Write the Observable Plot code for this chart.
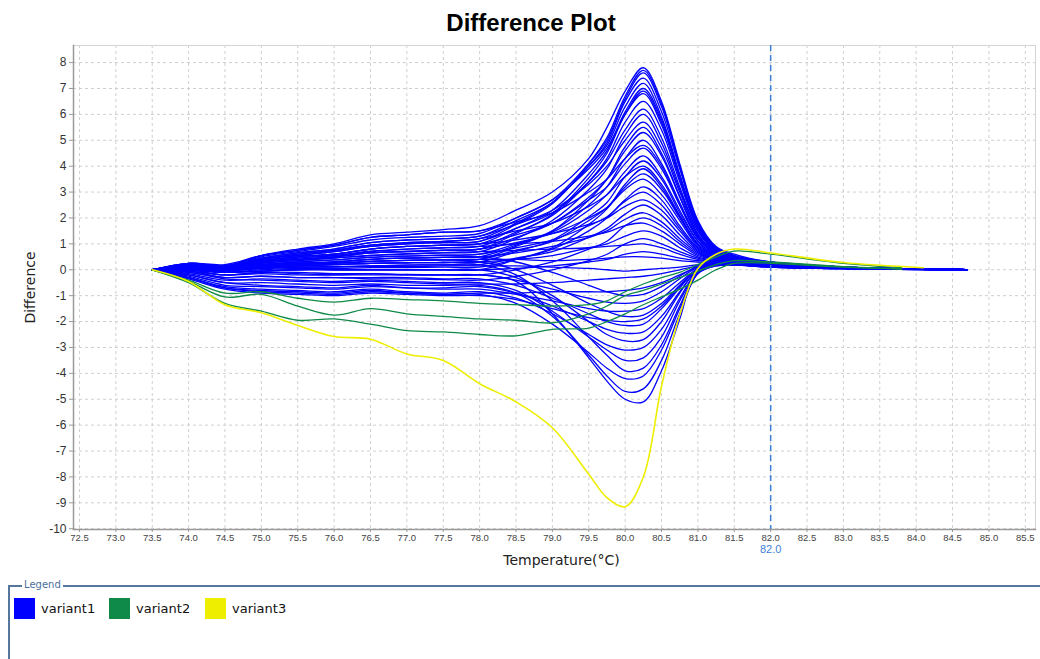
<!DOCTYPE html>
<html><head><meta charset="utf-8">
<script src="https://cdn.jsdelivr.net/npm/d3@7"></script>
<script src="https://cdn.jsdelivr.net/npm/@observablehq/plot@0.6"></script>
<style>
body{margin:0;background:#fff;}
#wrap{position:relative;width:1040px;height:659px;overflow:hidden;background:#fff;}
#title{position:absolute;left:22px;top:9px;width:1018px;text-align:center;font:bold 24px "Liberation Sans",Arial,sans-serif;color:#000;line-height:28px;}
#chart{position:absolute;left:0;top:40px;}
#legend{position:absolute;left:8px;top:585px;width:1040px;height:80px;border-left:2px solid #56779c;border-top:2px solid #56779c;}
#legend .lt{position:absolute;left:12px;top:-8px;background:#fff;padding:0 2px;font:10px "DejaVu Sans",sans-serif;color:#4b6f9c;}
#legend .it{position:absolute;top:11px;height:21px;display:flex;align-items:center;font:13px "DejaVu Sans",sans-serif;color:#111;}
#legend .sw{width:21px;height:21px;margin-right:6px;}
</style></head>
<body><div id="wrap"><div id="title">Difference Plot</div><div id="chart"></div><div id="legend"><span class="lt">Legend</span></div></div>
<script>
// temperature grid (°C) for each variant's curves
const tempsV1 = [73.5,74,74.5,75,75.5,76,76.5,77,77.5,78,78.5,79,79.5,79.75,80,80.25,80.5,80.75,81,81.25,81.5,82,83,84.7];
const tempsV2 = [73.5,74,74.5,75,75.5,76,76.5,77,77.5,78,78.5,79,79.5,79.75,80,80.25,80.5,80.75,81,81.25,81.5,82,83,83.8];
const tempsV3 = [73.5,74,74.5,75,75.5,76,76.5,77,77.5,78,78.5,79,79.5,79.75,80,80.25,80.5,80.75,81,81.25,81.5,82,83,84.1];

const variant1 = [
[0,0.25,0.15,0.55,0.8,1.0,1.35,1.45,1.55,1.7,2.3,3.0,4.3,5.5,6.9,7.8,6.5,4.1,1.9,0.9,0.6,0.3,0.1,0],
[0,0.2,0.1,0.5,0.7,0.9,1.15,1.25,1.3,1.4,2.0,2.7,4.1,5.0,6.6,7.6,6.3,4.0,1.8,0.85,0.55,0.3,0.1,0],
[0,0.15,0.1,0.4,0.6,0.75,0.95,1.05,1.1,1.2,1.8,2.6,4.0,4.9,6.5,7.4,6.1,3.9,1.8,0.8,0.5,0.28,0.1,0],
[0,0.2,0.15,0.45,0.65,0.8,1.05,1.15,1.2,1.3,1.9,2.6,4.0,4.8,6.3,7.2,5.9,3.7,1.7,0.8,0.5,0.28,0.1,0],
[0,0.15,0.1,0.35,0.5,0.6,0.8,0.9,0.95,1.0,1.6,2.3,3.7,4.6,6.1,7.0,5.8,3.6,1.7,0.75,0.5,0.27,0.1,0],
[0,0.25,0.2,0.55,0.75,0.95,1.25,1.35,1.45,1.5,2.0,2.7,3.9,4.7,6.0,6.8,5.6,3.5,1.6,0.75,0.5,0.27,0.1,0],
[0,0.1,0.05,0.3,0.45,0.55,0.7,0.8,0.85,0.9,1.45,2.1,3.4,4.3,5.7,6.5,5.4,3.4,1.6,0.7,0.45,0.25,0.1,0],
[0,0.15,0.1,0.4,0.55,0.7,0.9,1.0,1.05,1.1,1.6,2.2,3.4,4.2,5.4,6.2,5.1,3.2,1.5,0.7,0.45,0.25,0.1,0],
[0,0.1,0.05,0.25,0.35,0.45,0.55,0.6,0.65,0.7,1.2,1.9,3.1,3.9,5.2,6.0,4.9,3.1,1.5,0.7,0.45,0.25,0.1,0],
[0,0.2,0.15,0.45,0.65,0.8,1.05,1.15,1.2,1.3,1.75,2.3,3.3,4.0,5.0,5.7,4.7,3.0,1.4,0.65,0.45,0.25,0.1,0],
[0,0.1,0.05,0.3,0.4,0.5,0.65,0.7,0.75,0.8,1.25,1.8,2.8,3.5,4.6,5.3,4.4,2.8,1.3,0.65,0.4,0.23,0.08,0],
[0,0.05,0.0,0.18,0.25,0.3,0.4,0.45,0.48,0.5,0.95,1.5,2.5,3.2,4.3,5.0,4.1,2.6,1.25,0.6,0.4,0.22,0.08,0],
[0,0.15,0.1,0.35,0.5,0.6,0.8,0.9,0.95,1.0,1.35,1.8,2.7,3.2,4.1,4.7,3.9,2.5,1.2,0.6,0.4,0.22,0.08,0],
[0,0.1,0.05,0.2,0.3,0.38,0.48,0.53,0.56,0.6,1.0,1.45,2.3,2.9,3.8,4.4,3.6,2.3,1.1,0.55,0.38,0.2,0.08,0],
[0,0.05,-0.05,0.1,0.15,0.2,0.25,0.27,0.28,0.3,0.7,1.15,2.05,2.6,3.6,4.2,3.5,2.2,1.1,0.55,0.38,0.2,0.08,0],
[0,0.2,0.1,0.4,0.6,0.75,0.95,1.05,1.1,1.2,1.5,1.8,2.45,2.9,3.6,4.0,3.3,2.1,1.0,0.55,0.38,0.2,0.08,0],
[0,0.05,0.0,0.15,0.2,0.25,0.32,0.36,0.38,0.4,0.75,1.1,1.9,2.4,3.2,3.7,3.1,2.0,0.95,0.5,0.35,0.2,0.08,0],
[0,0.1,0.05,0.3,0.4,0.5,0.65,0.72,0.76,0.8,1.05,1.4,2.0,2.4,3.1,3.5,2.9,1.9,0.9,0.5,0.35,0.2,0.08,0],
[0,0.0,-0.1,0.0,0.05,0.05,0.08,0.08,0.1,0.1,0.4,0.8,1.5,2.0,2.7,3.2,2.7,1.7,0.85,0.45,0.33,0.18,0.07,0],
[0,0.1,0.0,0.2,0.3,0.38,0.48,0.53,0.56,0.6,0.85,1.15,1.7,2.05,2.65,3.0,2.5,1.6,0.8,0.45,0.33,0.18,0.07,0],
[0,0.15,0.1,0.35,0.5,0.6,0.8,0.9,0.95,1.0,1.15,1.4,1.75,2.0,2.45,2.7,2.3,1.5,0.75,0.42,0.32,0.18,0.07,0],
[0,0.05,-0.05,0.05,0.1,0.12,0.15,0.18,0.19,0.2,0.45,0.7,1.25,1.6,2.15,2.5,2.1,1.35,0.7,0.4,0.3,0.17,0.07,0],
[0,0.05,0.0,0.18,0.25,0.3,0.4,0.45,0.48,0.5,0.65,0.9,1.25,1.5,1.95,2.2,1.85,1.2,0.65,0.4,0.3,0.17,0.07,0],
[0,0.0,-0.2,-0.1,-0.1,-0.15,-0.15,-0.18,-0.2,-0.2,0.0,0.3,0.8,1.1,1.7,2.0,1.7,1.1,0.6,0.38,0.28,0.16,0.06,0],
[0,0.15,0.05,0.3,0.45,0.55,0.72,0.8,0.85,0.9,1.0,1.1,1.3,1.45,1.7,1.8,1.5,1.0,0.55,0.38,0.28,0.16,0.06,0],
[0,0.05,0.0,0.1,0.15,0.2,0.25,0.27,0.28,0.3,0.4,0.55,0.85,1.0,1.3,1.5,1.3,0.85,0.5,0.35,0.27,0.15,0.06,0],
[0,-0.05,-0.3,-0.25,-0.3,-0.3,-0.35,-0.35,-0.38,-0.4,-0.25,0.0,0.35,0.6,1.0,1.2,1.0,0.7,0.45,0.33,0.25,0.14,0.05,0],
[0,0.1,0.05,0.25,0.35,0.45,0.55,0.62,0.66,0.7,0.75,0.8,0.85,0.9,0.95,1.0,0.85,0.6,0.4,0.3,0.25,0.14,0.05,0],
[0,0.0,-0.1,-0.05,0.0,0.0,0.0,0.0,0.0,0.0,0.05,0.15,0.3,0.4,0.6,0.7,0.6,0.45,0.35,0.28,0.22,0.13,0.05,0],
[0,0.05,0.0,0.15,0.2,0.25,0.32,0.36,0.38,0.4,0.4,0.35,0.4,0.45,0.5,0.5,0.45,0.35,0.3,0.25,0.2,0.12,0.05,0],
[0,0.15,0.1,0.4,0.55,0.7,0.9,1.0,1.05,1.1,1.75,2.55,4.1,5.1,6.7,7.7,6.4,4.0,1.85,0.85,0.55,0.3,0.1,0],
[0,0.1,0.05,0.3,0.4,0.5,0.65,0.7,0.75,0.8,1.4,2.15,3.55,4.5,6.0,6.9,5.7,3.6,1.65,0.75,0.5,0.27,0.1,0],
[0,0.05,0.0,0.15,0.2,0.25,0.32,0.36,0.38,0.4,0.9,1.5,2.7,3.5,4.75,5.5,4.5,2.85,1.35,0.65,0.4,0.22,0.08,0],
[0,0.25,0.15,0.55,0.75,0.95,1.25,1.35,1.45,1.5,1.85,2.2,3.0,3.5,4.3,4.8,4.0,2.5,1.2,0.6,0.4,0.22,0.08,0],
[0,0.0,-0.1,-0.05,0.0,0.0,0.0,0.0,0.0,0.0,0.4,0.85,1.75,2.35,3.3,3.9,3.2,2.05,1.0,0.5,0.35,0.2,0.08,0],
[0,-0.05,-0.2,-0.1,-0.15,-0.2,-0.15,-0.2,-0.2,-0.2,-0.45,-1.7,-3.4,-4.3,-5.0,-5.1,-3.9,-1.9,0.05,0.2,0.2,0.12,0.05,0],
[0,-0.2,-0.5,-0.5,-0.55,-0.6,-0.55,-0.6,-0.6,-0.6,-0.9,-1.8,-3.3,-4.1,-4.7,-4.6,-3.5,-1.7,-0.15,0.15,0.18,0.1,0.04,0],
[0,-0.3,-0.7,-0.8,-0.85,-0.9,-0.8,-0.9,-0.95,-0.95,-1.3,-2.1,-3.2,-3.8,-4.2,-4.1,-3.1,-1.5,-0.15,0.15,0.18,0.1,0.04,0],
[0,0.05,0.0,0.05,0.1,0.12,0.15,0.18,0.19,0.2,-0.2,-1.2,-2.6,-3.3,-3.9,-3.8,-2.9,-1.4,-0.1,0.2,0.22,0.12,0.05,0],
[0,-0.15,-0.4,-0.35,-0.4,-0.45,-0.4,-0.45,-0.5,-0.5,-0.8,-1.6,-2.6,-3.1,-3.5,-3.4,-2.6,-1.2,-0.1,0.18,0.2,0.1,0.04,0],
[0,-0.3,-0.65,-0.75,-0.8,-0.85,-0.75,-0.85,-0.9,-0.85,-1.1,-1.7,-2.5,-2.9,-3.1,-3.0,-2.3,-1.1,-0.05,0.18,0.2,0.1,0.04,0],
[0,0.0,-0.1,-0.05,0.0,0.0,0.0,0.0,0.0,0.0,-0.3,-1.0,-2.0,-2.5,-2.75,-2.7,-2.0,-0.9,0.0,0.2,0.22,0.12,0.05,0],
[0,-0.2,-0.5,-0.6,-0.65,-0.7,-0.6,-0.7,-0.7,-0.65,-0.9,-1.4,-2.0,-2.3,-2.45,-2.4,-1.8,-0.85,0.0,0.2,0.2,0.11,0.04,0],
[0,-0.1,-0.3,-0.25,-0.3,-0.3,-0.3,-0.3,-0.35,-0.35,-0.6,-1.1,-1.7,-2.0,-2.15,-2.1,-1.5,-0.7,0.05,0.22,0.22,0.12,0.05,0],
[0,-0.35,-0.75,-0.9,-0.95,-1.0,-0.9,-0.95,-1.0,-1.0,-1.15,-1.5,-1.85,-1.95,-2.0,-1.9,-1.4,-0.65,0.0,0.2,0.2,0.11,0.04,0],
[0,0.05,0.0,0.1,0.15,0.2,0.25,0.27,0.28,0.3,0.0,-0.6,-1.3,-1.6,-1.8,-1.75,-1.3,-0.6,0.05,0.25,0.25,0.13,0.05,0],
[0,-0.25,-0.6,-0.65,-0.7,-0.75,-0.65,-0.7,-0.75,-0.75,-0.95,-1.2,-1.5,-1.6,-1.6,-1.5,-1.1,-0.5,0.05,0.22,0.22,0.12,0.05,0],
[0,-0.05,-0.2,-0.15,-0.2,-0.2,-0.2,-0.2,-0.2,-0.2,-0.4,-0.75,-1.1,-1.25,-1.3,-1.2,-0.85,-0.35,0.1,0.25,0.25,0.13,0.05,0],
[0,0.1,0.05,0.2,0.25,0.3,0.4,0.45,0.48,0.5,0.3,-0.1,-0.6,-0.85,-1.0,-0.95,-0.65,-0.25,0.15,0.3,0.28,0.14,0.05,0],
[0,-0.3,-0.7,-0.85,-0.9,-0.95,-0.85,-0.9,-0.95,-0.9,-0.9,-0.85,-0.85,-0.85,-0.8,-0.7,-0.5,-0.2,0.1,0.25,0.25,0.13,0.05,0],
[0,0.05,-0.05,0.05,0.1,0.1,0.12,0.12,0.15,0.15,0.15,0.1,0.05,0.0,-0.05,0.0,0.05,0.1,0.2,0.25,0.22,0.12,0.05,0],
[0,-0.1,-0.35,-0.4,-0.45,-0.5,-0.45,-0.5,-0.55,-0.55,-0.55,-0.5,-0.4,-0.35,-0.3,-0.25,-0.15,0.0,0.15,0.25,0.22,0.12,0.05,0]
];

const variant2 = [
[0,-0.4,-0.9,-0.85,-1.1,-1.25,-1.1,-1.15,-1.2,-1.3,-1.35,-1.4,-1.35,-1.2,-0.85,-0.55,-0.3,-0.1,0.2,0.5,0.72,0.6,0.25,0.08],
[0,-0.45,-1.05,-0.95,-1.4,-1.75,-1.5,-1.7,-1.8,-1.9,-1.95,-2.05,-1.7,-1.4,-1.0,-0.8,-0.55,-0.3,-0.05,0.2,0.35,0.3,0.12,0.03],
[0,-0.5,-1.3,-1.6,-1.95,-1.9,-2.1,-2.35,-2.4,-2.5,-2.55,-2.3,-2.25,-2.0,-1.7,-1.35,-1.05,-0.75,-0.4,0.0,0.25,0.25,0.1,0.03]
];

const variant3 = [
[0,-0.45,-1.35,-1.66,-2.15,-2.58,-2.68,-3.25,-3.5,-4.4,-5.1,-6.1,-7.9,-8.8,-9.15,-8.0,-4.5,-1.75,0.05,0.6,0.8,0.65,0.28,0.08]
];

const seriesNames = ["variant1","variant2","variant3"];
const seriesColors = ["#0000ff","#108a48","#eeee00"];
const xTickValues = [72.5,73.0,73.5,74.0,74.5,75.0,75.5,76.0,76.5,77.0,77.5,78.0,78.5,79.0,79.5,80.0,80.5,81.0,81.5,82.0,82.5,83.0,83.5,84.0,84.5,85.0,85.5];
const yTickValues = [-10,-9,-8,-7,-6,-5,-4,-3,-2,-1,0,1,2,3,4,5,6,7,8];
const markerTemp = [82.0];

function rowsOf(name, temps, curves){
  const out = [];
  curves.forEach((vals,i)=>vals.forEach((v,j)=>out.push({variant:name,id:name+"-"+i,t:temps[j],v})));
  return out;
}
const rows1 = rowsOf("variant1", tempsV1, variant1);
const rows2 = rowsOf("variant2", tempsV2, variant2);
const rows3 = rowsOf("variant3", tempsV3, variant3);

const gridStyle = {stroke:"#cfcfcf", strokeOpacity:1, strokeDasharray:"3,3", strokeWidth:1};
const chart = Plot.plot({
  width:1040, height:535,
  marginTop:5, marginLeft:73, marginRight:5, marginBottom:46,
  style:{fontFamily:"'Liberation Sans', Arial, sans-serif", background:"#fff", color:"#333"},
  x:{domain:[72.418,85.64], label:null},
  y:{domain:[-10.03,8.66], label:null},
  marks:[
    Plot.gridX(xTickValues, gridStyle),
    Plot.gridY(yTickValues, gridStyle),
    Plot.frame({stroke:"#d4d4d4"}),
    Plot.line(rows1,{x:"t",y:"v",z:"id",stroke:seriesColors[0],strokeWidth:1.3,curve:"catmull-rom"}),
    Plot.line(rows2,{x:"t",y:"v",z:"id",stroke:seriesColors[1],strokeWidth:1.3,curve:"catmull-rom"}),
    Plot.line(rows3,{x:"t",y:"v",z:"id",stroke:seriesColors[2],strokeWidth:1.6,curve:"catmull-rom"}),
    Plot.ruleX(markerTemp,{stroke:"#3d7fd9",strokeWidth:1.5,strokeDasharray:"6,4"}),
    Plot.frame({anchor:"left",stroke:"#9a9a9a",strokeWidth:1.5}),
    Plot.frame({anchor:"bottom",stroke:"#9a9a9a",strokeWidth:1.5}),
    Plot.axisX(xTickValues,{tickSize:3,tickPadding:2,tickFormat:d=>d.toFixed(1),fontSize:9.5,fill:"#444",stroke:"#999",label:null}),
    Plot.axisY(yTickValues,{tickSize:4,tickPadding:3,tickFormat:d=>String(d),fontSize:12,fill:"#333",stroke:"#999",label:null}),
    Plot.text(markerTemp,{x:d=>d,frameAnchor:"bottom",dy:20,lineAnchor:"middle",text:d=>d.toFixed(1),fill:"#3d7fd9",fontSize:11}),
    Plot.text(["Temperature(°C)"],{frameAnchor:"bottom",dy:31,dx:7,lineAnchor:"middle",fontSize:14,fill:"#222",fontFamily:"'DejaVu Sans', sans-serif"}),
    Plot.text(["Difference"],{frameAnchor:"left",dx:-43,rotate:-90,textAnchor:"middle",fontSize:14,fill:"#222",fontFamily:"'DejaVu Sans', sans-serif"})
  ]
});
document.getElementById("chart").appendChild(chart);

// legend
const legend = document.getElementById("legend");
const legendX = [4, 99, 195];
seriesNames.forEach((name,i)=>{
  const it = document.createElement("div");
  it.className = "it";
  it.style.left = legendX[i] + "px";
  it.innerHTML = `<span class="sw" style="background:${seriesColors[i]}"></span><span>${name}</span>`;
  legend.appendChild(it);
});
</script>
</body></html>
